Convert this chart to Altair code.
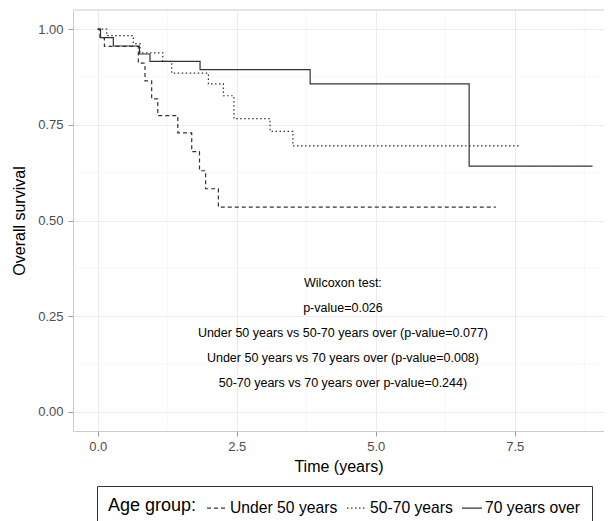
import altair as alt
import pandas as pd

# ---- data ----
groups = ["Under 50 years", "50-70 years", "70 years over"]

under50_t = [0.0, 0.04, 0.12, 0.73, 0.85, 0.97, 1.08, 1.44, 1.69, 1.83, 1.94, 2.17, 7.16]
under50_s = [1.0, 0.977, 0.955, 0.911, 0.865, 0.818, 0.774, 0.729, 0.680, 0.630, 0.583, 0.535, 0.535]

mid_t = [0.0, 0.16, 0.64, 0.76, 1.17, 1.33, 1.99, 2.26, 2.45, 3.10, 3.51, 7.61]
mid_s = [1.0, 0.983, 0.962, 0.938, 0.916, 0.885, 0.857, 0.826, 0.766, 0.733, 0.695, 0.695]

over70_t = [0.0, 0.05, 0.28, 0.75, 0.94, 1.84, 3.82, 6.68, 8.90]
over70_s = [1.0, 0.978, 0.956, 0.935, 0.916, 0.894, 0.857, 0.642, 0.642]

x_ticks = [0.0, 2.5, 5.0, 7.5]
y_ticks = [0.0, 0.25, 0.50, 0.75, 1.00]
x_minor = [1.25, 3.75, 6.25, 8.75]
y_minor = [0.125, 0.375, 0.625, 0.875]

annotation = [
    "Wilcoxon test:",
    "p-value=0.026",
    "Under 50 years vs 50-70 years over (p-value=0.077)",
    "Under 50 years vs 70 years over (p-value=0.008)",
    "50-70 years vs 70 years over p-value=0.244)",
]

rows = []
for g, ts, ss in zip(groups, [under50_t, mid_t, over70_t], [under50_s, mid_s, over70_s]):
    for t, s in zip(ts, ss):
        rows.append({"t": t, "s": s, "group": g})
df = pd.DataFrame(rows)

W, H = 531, 421
FONT = "Liberation Sans"
xdom = [-0.445, -0.445 + W / 55.6]
ydom = [-0.05, 1.05]

xscale = alt.Scale(domain=xdom, nice=False, zero=False)
yscale = alt.Scale(domain=ydom, nice=False, zero=False)

minor_x = alt.Chart(pd.DataFrame({"v": x_minor})).mark_rule(
    color="#f1f1f1", strokeWidth=0.6
).encode(x=alt.X("v:Q", scale=xscale))

minor_y = alt.Chart(pd.DataFrame({"v": y_minor})).mark_rule(
    color="#f1f1f1", strokeWidth=0.6
).encode(y=alt.Y("v:Q", scale=yscale))

top_border = alt.Chart(alt.Data(values=[{}])).mark_rule(
    color="#cccccc", strokeWidth=1
).encode(x=alt.value(0), x2=alt.value(W), y=alt.value(0))

lines = alt.Chart(df).mark_line(
    interpolate="step-after", strokeWidth=1.2, color="#333333"
).encode(
    x=alt.X(
        "t:Q",
        scale=xscale,
        axis=alt.Axis(
            values=x_ticks, format=".1f", title="Time (years)",
            labelFontSize=13, labelColor="#4d4d4d", labelPadding=4,
            tickSize=5, tickColor="#999999", domain=True, domainColor="#cccccc",
            grid=True, gridColor="#ebebeb", gridWidth=1,
            titleFontSize=16, titleFontWeight="normal", titleColor="black",
            titlePadding=5,
        ),
    ),
    y=alt.Y(
        "s:Q",
        scale=yscale,
        axis=alt.Axis(
            values=y_ticks, format=".2f", title="Overall survival",
            labelFontSize=13, labelColor="#4d4d4d", labelPadding=5,
            tickSize=5, tickColor="#999999", domain=True, domainColor="#cccccc",
            grid=True, gridColor="#ebebeb", gridWidth=1,
            titleFontSize=16, titleFontWeight="normal", titleColor="black",
            titlePadding=10,
        ),
    ),
    strokeDash=alt.StrokeDash(
        "group:N",
        scale=alt.Scale(domain=groups, range=[[4, 3], [1.5, 2.5], [1, 0]]),
        legend=alt.Legend(
            title="Age group:", orient="none", legendX=24, legendY=476,
            direction="horizontal", titleOrient="left",
            strokeColor="#333333", padding=11, cornerRadius=0,
            titleFontSize=18, titleFontWeight="normal", titleColor="black",
            titlePadding=9, titleBaseline="middle",
            labelFontSize=15.7, labelColor="black", labelOffset=2,
            labelLimit=300, columnPadding=6,
            symbolType="stroke", symbolSize=400, symbolStrokeWidth=1.2,
            symbolStrokeColor="#333333",
        ),
    ),
    detail="group:N",
)

text = alt.Chart(alt.Data(values=[{}])).mark_text(
    text=annotation, lineHeight=25, fontSize=12.5, font=FONT, color="black",
    align="center", baseline="middle",
).encode(x=alt.datum(4.41), y=alt.datum(0.337))

chart = alt.layer(minor_x, minor_y, top_border, lines, text).properties(
    width=W, height=H,
    autosize=alt.AutoSizeParams(type="none"),
    padding={"left": 65, "top": 2, "right": 0, "bottom": 90},
).configure(font=FONT).configure_view(stroke=None).configure_axis(labelFont=FONT, titleFont=FONT)

chart.save("out.html", embed_options={"renderer": "svg", "actions": False})
